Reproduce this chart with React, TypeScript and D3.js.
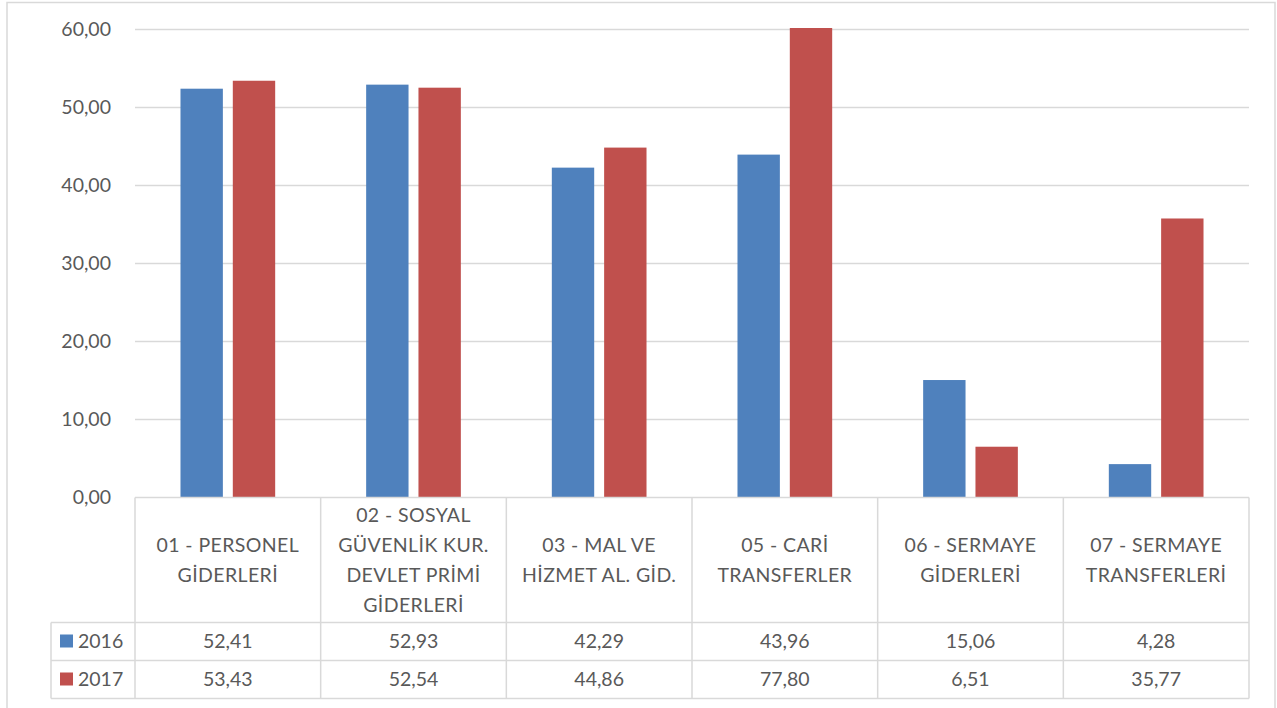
import React from "react";
import * as d3 from "d3";

const categories: string[][] = [
  ["01 - PERSONEL", "GİDERLERİ"],
  ["02 - SOSYAL", "GÜVENLİK KUR.", "DEVLET PRİMİ", "GİDERLERİ"],
  ["03 - MAL VE", "HİZMET AL. GİD."],
  ["05 - CARİ", "TRANSFERLER"],
  ["06 - SERMAYE", "GİDERLERİ"],
  ["07 - SERMAYE", "TRANSFERLERİ"],
];
const seriesNames = ["2016", "2017"];
const values2016 = [52.41, 52.93, 42.29, 43.96, 15.06, 4.28];
const values2017 = [53.43, 52.54, 44.86, 77.8, 6.51, 35.77];
const yTicks = [0, 10, 20, 30, 40, 50, 60];
const colors = ["#4F81BD", "#C0504D"];

const fmt = (v: number) => v.toFixed(2).replace(".", ",");

export default function App() {
  const W = 1277, H = 708;
  const left = 135, right = 1249, top = 29.5, bottom = 497.5;
  const rowH = [125, 38, 38];
  const legendLeft = 51;
  const font = "Lato, 'Open Sans', sans-serif";
  const fs = 19.5;
  const textColor = "#595959";
  const gridColor = "#D9D9D9";

  const x = d3.scaleBand<number>().domain(d3.range(categories.length)).range([left, right]);
  const bw = x.bandwidth();
  const xs = d3.scaleBand<number>().domain([0, 1]).range([bw * 0.245, bw * 0.755]).paddingInner(0.19);
  const y = d3.scaleLinear().domain([0, 60]).range([bottom, top]).clamp(true);
  const series = [values2016, values2017];

  const headerBottom = bottom + rowH[0];
  const row1Bottom = headerBottom + rowH[1];
  const row2Bottom = row1Bottom + rowH[2];

  return (
    <svg width={W} height={H} style={{ position: "absolute", left: 0, top: 0, fontFamily: font }}>
      <rect x={0} y={0} width={W} height={H} fill="#fff" />
      <rect x={7} y={2.5} width={1268} height={720} fill="none" stroke={gridColor} strokeWidth={1.5} />
      {yTicks.map((t) => (
        <g key={t}>
          {t > 0 && <line x1={left} x2={right} y1={y(t)} y2={y(t)} stroke={gridColor} strokeWidth={1.5} />}
          <text x={111} y={y(t)} dy="0.35em" textAnchor="end" fontSize={fs} fill={textColor}>
            {fmt(t)}
          </text>
        </g>
      ))}
      {series.map((vals, si) =>
        vals.map((v, i) => (
          <rect
            key={`${si}-${i}`}
            x={(x(i) as number) + (xs(si) as number)}
            width={xs.bandwidth()}
            y={y(v) - (v > 60 ? 1.5 : 0)}
            height={bottom - y(v) + (v > 60 ? 1.5 : 0)}
            fill={colors[si]}
          />
        ))
      )}
      {/* table grid */}
      <line x1={left} x2={right} y1={bottom} y2={bottom} stroke={gridColor} strokeWidth={1.5} />
      <line x1={legendLeft} x2={right} y1={headerBottom} y2={headerBottom} stroke={gridColor} strokeWidth={1.5} />
      <line x1={legendLeft} x2={right} y1={row1Bottom} y2={row1Bottom} stroke={gridColor} strokeWidth={1.5} />
      <line x1={legendLeft} x2={right} y1={row2Bottom} y2={row2Bottom} stroke={gridColor} strokeWidth={1.5} />
      <line x1={legendLeft} x2={legendLeft} y1={headerBottom} y2={row2Bottom} stroke={gridColor} strokeWidth={1.5} />
      {d3.range(categories.length + 1).map((i) => {
        const xx = i < categories.length ? (x(i) as number) : right;
        return <line key={i} x1={xx} x2={xx} y1={bottom} y2={row2Bottom} stroke={gridColor} strokeWidth={1.5} />;
      })}
      {categories.map((lines, i) => {
        const cx = (x(i) as number) + bw / 2;
        const cy = bottom + rowH[0] / 2;
        const lh = 30;
        return (
          <text key={i} textAnchor="middle" fontSize={fs} fill={textColor} letterSpacing={0.4}>
            {lines.map((l, k) => (
              <tspan key={k} x={cx} y={cy + (k - (lines.length - 1) / 2) * lh} dy="0.35em">
                {l}
              </tspan>
            ))}
          </text>
        );
      })}
      {series.map((vals, si) => {
        const rowTop = si === 0 ? headerBottom : row1Bottom;
        const cy = rowTop + rowH[1] / 2;
        return (
          <g key={si}>
            <rect x={60} y={cy - 7} width={13} height={13} fill={colors[si]} />
            <text x={78} y={cy} dy="0.35em" fontSize={fs} fill={textColor}>
              {seriesNames[si]}
            </text>
            {vals.map((v, i) => (
              <text key={i} x={(x(i) as number) + bw / 2} y={cy} dy="0.35em" textAnchor="middle" fontSize={fs} fill={textColor}>
                {fmt(v)}
              </text>
            ))}
          </g>
        );
      })}
    </svg>
  );
}
